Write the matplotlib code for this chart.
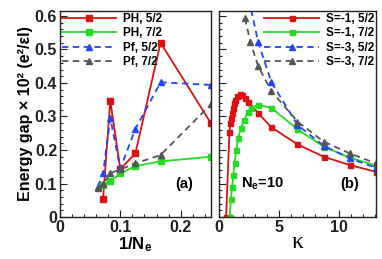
import matplotlib
matplotlib.use("Agg")
import matplotlib.pyplot as plt
from matplotlib.ticker import MultipleLocator, FuncFormatter

plt.rcParams['font.family'] = ['Liberation Sans', 'DejaVu Sans']
plt.rcParams['font.weight'] = 'bold'
plt.rcParams['mathtext.fontset'] = 'custom'
plt.rcParams['mathtext.rm'] = 'Liberation Sans:bold'
plt.rcParams['mathtext.it'] = 'Liberation Sans:bold'
plt.rcParams['mathtext.bf'] = 'Liberation Sans:bold'

# ---- panel (a): gap vs 1/Ne ----
x_ph = [1/14, 1/12, 1/10, 1/8, 1/6, 1/4]
ph52 = [0.055, 0.347, 0.143, 0.19, 0.52, 0.28]
ph72 = [0.095, 0.107, 0.13, 0.152, 0.166, 0.18]
x_pf = [1/16, 1/14, 1/12, 1/10, 1/8, 1/6, 1/4]
pf52 = [0.09, 0.13, 0.295, 0.145, 0.263, 0.402, 0.394]
pf72 = [0.086, 0.098, 0.131, 0.142, 0.16, 0.185, 0.336]

# ---- panel (b): gap vs kappa, Ne=10 ----
k_s1_52 = [0.6, 0.88, 0.95, 1.0, 1.07, 1.15, 1.25, 1.36, 1.5, 1.72, 1.92, 2.15, 2.45,
           3.26, 4.35, 6.52, 8.7, 10.87, 13.04]
s1_52 = [0.0, 0.255, 0.28, 0.295, 0.31, 0.326, 0.339, 0.35, 0.36, 0.366, 0.364, 0.356, 0.344,
         0.31, 0.268, 0.217, 0.18, 0.155, 0.135]
k_s1_72 = [0.9, 1.0, 1.1, 1.2, 1.3, 1.45, 1.6, 1.85, 2.1, 2.4, 2.7, 3.26, 4.35,
           6.52, 8.7, 10.87, 13.04]
s1_72 = [0.0, 0.055, 0.09, 0.125, 0.16, 0.2, 0.235, 0.267, 0.29, 0.312, 0.325, 0.335, 0.326,
         0.262, 0.21, 0.177, 0.154]
k_s3 = [2.17, 2.61, 3.26, 4.35, 6.52, 8.7, 10.87, 13.04]
s3_52 = [0.74, 0.63, 0.522, 0.403, 0.275, 0.213, 0.175, 0.147]
s3_72 = [0.593, 0.523, 0.45, 0.376, 0.285, 0.225, 0.19, 0.16]

red = '#dd1111'
green = '#22dd22'
blue = '#2244ff'
gray = '#555555'

fig = plt.figure(figsize=(3.82, 2.59), dpi=100)
ax1 = fig.add_axes([0.157, 0.162, 0.395, 0.796])
ax2 = fig.add_axes([0.573, 0.162, 0.411, 0.796])

lw = 1.3
ax1.plot(x_ph, ph52, '-s', color=red, lw=lw, ms=4.5, label='PH, 5/2')
ax1.plot(x_ph, ph72, '-s', color=green, lw=lw, ms=4.5, label='PH, 7/2')
ax1.plot(x_pf, pf52, '--^', color=blue, lw=lw, ms=5, dashes=(3.5, 2.5), label='Pf, 5/2')
ax1.plot(x_pf, pf72, '--^', color=gray, lw=lw, ms=5, dashes=(3.5, 2.5), label='Pf, 7/2')

ax2.plot(k_s1_52, s1_52, '-s', color=red, lw=lw, ms=3.6, label='S=-1, 5/2')
ax2.plot(k_s1_72, s1_72, '-s', color=green, lw=lw, ms=3.6, label='S=-1, 7/2')
ax2.plot(k_s3, s3_52, '--^', color=blue, lw=lw, ms=4.5, dashes=(3.5, 2.5), label='S=-3, 5/2')
ax2.plot(k_s3, s3_72, '--^', color=gray, lw=lw, ms=4.5, dashes=(3.5, 2.5), label='S=-3, 7/2')

fmt = FuncFormatter(lambda v, p: '%g' % round(v, 3))
for ax in (ax1, ax2):
    ax.set_ylim(0, 0.615)
    ax.yaxis.set_major_locator(MultipleLocator(0.1))
    ax.yaxis.set_minor_locator(MultipleLocator(0.02))
    ax.tick_params(which='both', direction='in', top=False, right=False,
                   labelsize=11.5, width=0.8, colors='#222222', pad=2)
    ax.tick_params(which='major', length=5)
    ax.tick_params(which='minor', length=2.5)
    for s in ax.spines.values():
        s.set_linewidth(1.0)
        s.set_color('#222222')
    for lab in ax.get_xticklabels() + ax.get_yticklabels():
        lab.set_fontweight('bold')

ax1.set_xlim(0, 0.25)
ax1.xaxis.set_major_locator(MultipleLocator(0.1))
ax1.xaxis.set_minor_locator(MultipleLocator(0.02))
ax1.xaxis.set_major_formatter(fmt)
ax1.yaxis.set_major_formatter(fmt)
ax1.set_ylabel('Energy gap × 10² (e²/εl)', fontsize=11.5, fontweight='bold', labelpad=1)
ax1.set_xlabel('1/N$_e$', fontsize=12, fontweight='bold', labelpad=0)

ax2.set_xlim(0, 13.04)
ax2.xaxis.set_major_locator(MultipleLocator(5))
ax2.xaxis.set_minor_locator(MultipleLocator(1))
ax2.yaxis.set_ticklabels([])
ax2.set_xlabel('κ', fontsize=17, family=['Liberation Serif', 'DejaVu Serif'], labelpad=-2)

ax1.text(0.205, 0.1, '(a)', fontsize=10.5, fontweight='bold', ha='center', va='center')
ax2.text(10.9, 0.1, '(b)', fontsize=10.5, fontweight='bold', ha='center', va='center')
ax2.text(3.6, 0.1, 'N$_e$=10', fontsize=10.5, fontweight='bold', ha='center', va='center')

leg_kw = dict(frameon=False, fontsize=8.5, handlelength=4.6, handletextpad=0.6,
              labelspacing=0.22, borderpad=0.15, borderaxespad=0.0)
l1 = ax1.legend(loc='upper left', bbox_to_anchor=(0.0, 1.0), **leg_kw)
l2 = ax2.legend(loc='upper right', bbox_to_anchor=(1.0, 1.0), **leg_kw)
for l in (l1, l2):
    for t in l.get_texts():
        t.set_fontweight('bold')

fig.savefig('out.png', dpi=100)
